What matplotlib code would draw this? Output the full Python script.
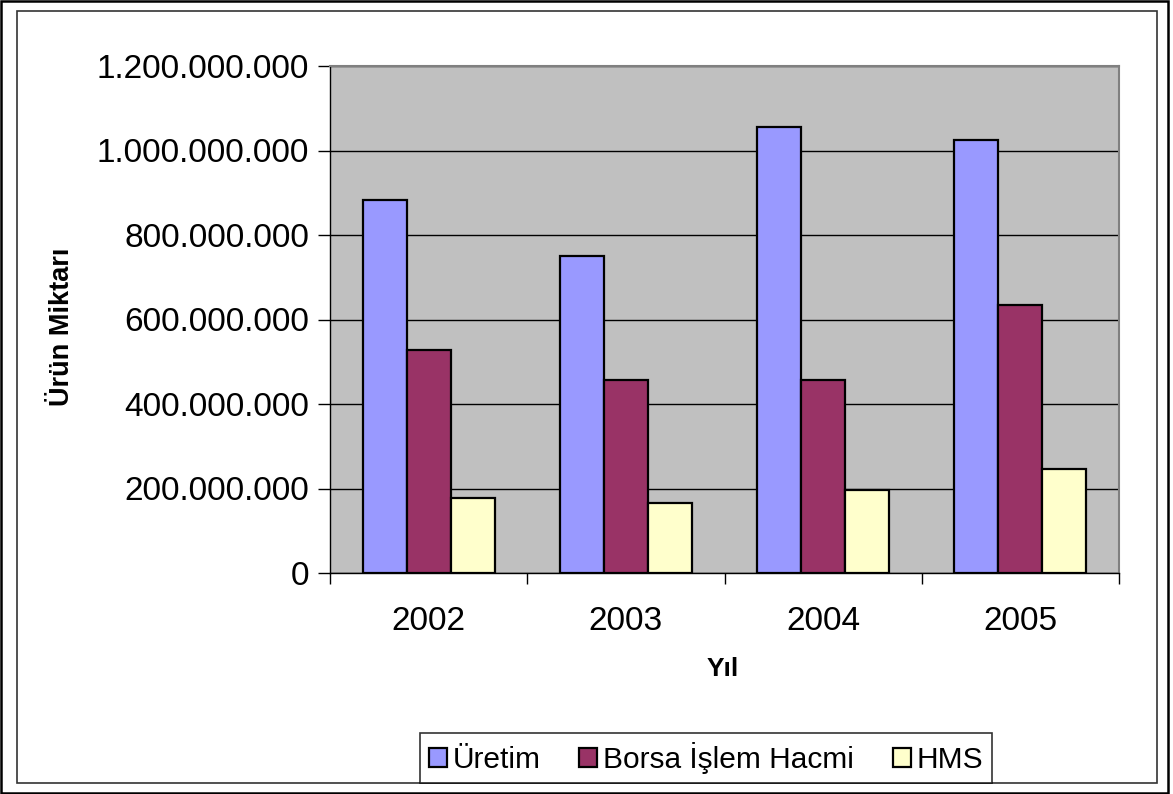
import numpy as np
import matplotlib
matplotlib.use("Agg")
import matplotlib.pyplot as plt
from matplotlib.patches import Rectangle
from matplotlib.ticker import FuncFormatter, MultipleLocator, FixedLocator

# Data
years = ["2002", "2003", "2004", "2005"]
uretim = [882_000_000, 750_000_000, 1_056_000_000, 1_026_000_000]
borsa = [527_000_000, 457_000_000, 456_000_000, 634_000_000]
hms = [178_000_000, 165_000_000, 196_000_000, 245_000_000]
series_names = ["Üretim", "Borsa İşlem Hacmi", "HMS"]
colors = ["#9999FF", "#993366", "#FFFFCC"]

plt.rcParams['font.family'] = ['Liberation Sans', 'DejaVu Sans']

W, H = 1173, 794
fig = plt.figure(figsize=(W / 100, H / 100), dpi=100)

# outer frames
fig.patches.append(Rectangle((1 / W, 1 - 793 / H), 1167 / W, 792 / H, transform=fig.transFigure,
                             fill=False, edgecolor="black", linewidth=1.8, zorder=0))
fig.patches.append(Rectangle((17 / W, 1 - 783 / H), 1140 / W, 772 / H, transform=fig.transFigure,
                             fill=False, edgecolor="#333333", linewidth=1.2, zorder=0))

ax = fig.add_axes([330 / W, 1 - 573 / H, (1119 - 330) / W, (573 - 66) / H])
ax.set_facecolor("#C0C0C0")

x = np.arange(len(years))
w = 0.223
for i, (vals, name, c) in enumerate(zip([uretim, borsa, hms], series_names, colors)):
    ax.bar(x + (i - 1) * w, vals, width=w, color=c, edgecolor="black", linewidth=1.6,
           label=name, zorder=3)

ax.set_xlim(-0.5, 3.5)
ax.set_ylim(0, 1_200_000_000)
ax.yaxis.set_major_locator(MultipleLocator(200_000_000))
ax.yaxis.set_major_formatter(FuncFormatter(lambda v, p: f"{int(v):,}".replace(",", ".")))
ax.grid(axis="y", color="black", linewidth=1.0, zorder=1)
ax.set_axisbelow(True)

ax.set_xticks(x)
ax.set_xticklabels(years)
ax.xaxis.set_minor_locator(FixedLocator([-0.5, 0.5, 1.5, 2.5, 3.5]))
ax.tick_params(axis="x", which="major", length=0, labelsize=24, pad=24)
ax.tick_params(axis="x", which="minor", length=8, width=1, color="black")
ax.tick_params(axis="y", length=9, width=1, labelsize=24, pad=6)

for s in ["top", "right"]:
    ax.spines[s].set_color("#808080")
    ax.spines[s].set_linewidth(1.5)
for s in ["left", "bottom"]:
    ax.spines[s].set_color("black")
    ax.spines[s].set_linewidth(1.0)

fig.text(723 / W, 1 - 669 / H, "Yıl", ha="center", va="center", fontsize=19, fontweight="bold")
fig.text(62 / W, 1 - 327 / H, "Ürün Miktarı", ha="center", va="center", rotation=90,
         fontsize=19.5, fontweight="bold")

leg = fig.legend(loc="center", bbox_to_anchor=(706 / W, 1 - 758 / H), bbox_transform=fig.transFigure,
                 ncol=3, fontsize=21.5, frameon=True, fancybox=False, handlelength=0.6,
                 handleheight=0.6, handletextpad=0.2, columnspacing=1.3, borderpad=0.3)
leg.get_frame().set_edgecolor("black")
leg.get_frame().set_linewidth(1.2)

fig.savefig("out.png", dpi=100)
